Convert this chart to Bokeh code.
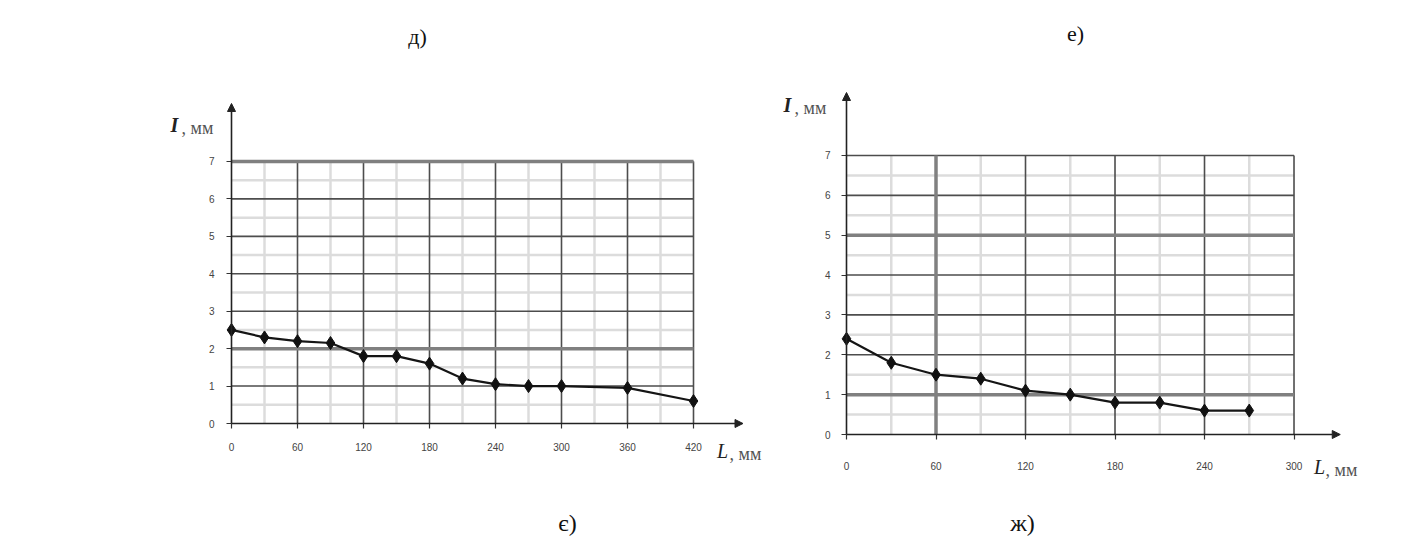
from bokeh.plotting import figure
from bokeh.layouts import row
from bokeh.models import FixedTicker, Arrow, NormalHead, Label, Range1d, LinearAxis
from bokeh.embed import file_html
from bokeh.resources import INLINE

# ---- data ----
left_L = [0, 30, 60, 90, 120, 150, 180, 210, 240, 270, 300, 360, 420]
left_I = [2.5, 2.3, 2.2, 2.15, 1.8, 1.8, 1.6, 1.2, 1.05, 1.0, 1.0, 0.95, 0.6]
right_L = [0, 30, 60, 90, 120, 150, 180, 210, 240, 270]
right_I = [2.4, 1.8, 1.5, 1.4, 1.1, 1.0, 0.8, 0.8, 0.6, 0.6]

left_x_ticks = [0, 60, 120, 180, 240, 300, 360, 420]
left_x_minor = [30, 90, 150, 210, 270, 330, 390]
right_x_ticks = [0, 60, 120, 180, 240, 300]
right_x_minor = [30, 90, 150, 210, 270]
y_ticks = [0, 1, 2, 3, 4, 5, 6, 7]
y_minor = [0.5, 1.5, 2.5, 3.5, 4.5, 5.5, 6.5]

y_label_main = "I"
y_label_unit = ", мм"
x_label_main = "L"
x_label_unit = ", мм"
captions = ["є)", "ж)", "д)", "е)"]

TICK_FONT = "Liberation Sans"
SERIF = "Liberation Serif"
H = 552


def make_chart(width, x_range, y_range, L, I, xt, xm, xstand, ystand, arrow_x, arrow_y,
               heavy_h, heavy_v):
    p = figure(width=width, height=H, x_range=Range1d(*x_range), y_range=Range1d(*y_range),
               min_border_left=0, min_border_right=0, min_border_top=0, min_border_bottom=0,
               x_axis_location=None, y_axis_location=None,
               output_backend="svg", toolbar_location=None,
               background_fill_color="white", border_fill_color="white",
               outline_line_color=None)
    p.xgrid.visible = False
    p.ygrid.visible = False
    xmax = xt[-1]
    ymax = y_ticks[-1]
    # minor grid
    p.segment(x0=[0] * len(y_minor), x1=[xmax] * len(y_minor), y0=y_minor, y1=y_minor,
              line_color="#dcdcdc", line_width=2.5)
    p.segment(x0=xm, x1=xm, y0=[0] * len(xm), y1=[ymax] * len(xm),
              line_color="#dcdcdc", line_width=2.5)
    # major grid
    hy = y_ticks[1:]
    p.segment(x0=[0] * len(hy), x1=[xmax] * len(hy), y0=hy, y1=hy,
              line_color="#4d4d4d", line_width=1.6)
    vx = xt[1:]
    p.segment(x0=vx, x1=vx, y0=[0] * len(vx), y1=[ymax] * len(vx),
              line_color="#4d4d4d", line_width=1.6)
    # scan-thickened grid lines
    if heavy_h:
        p.segment(x0=[0] * len(heavy_h), x1=[xmax] * len(heavy_h), y0=heavy_h, y1=heavy_h,
                  line_color="#808080", line_width=3.5)
    if heavy_v:
        p.segment(x0=heavy_v, x1=heavy_v, y0=[0] * len(heavy_v), y1=[ymax] * len(heavy_v),
                  line_color="#808080", line_width=3.5)
    # data
    p.line(L, I, line_color="#151515", line_width=2.2)
    p.scatter(L, I, marker="diamond", size=13, fill_color="#111111", line_color="#111111")

    xaxis = LinearAxis(fixed_location=0, ticker=FixedTicker(ticks=xt))
    yaxis = LinearAxis(fixed_location=0, ticker=FixedTicker(ticks=y_ticks))
    for ax in (xaxis, yaxis):
        ax.axis_line_color = None
        ax.major_tick_line_color = "#333333"
        ax.major_tick_line_width = 1.2
        ax.major_tick_in = 0
        ax.major_tick_out = 5
        ax.minor_tick_out = 0
        ax.minor_tick_in = 0
        ax.major_label_text_font = TICK_FONT
        ax.major_label_text_font_size = "10px"
        ax.major_label_text_color = "#444444"
    xaxis.major_label_standoff = xstand
    yaxis.major_label_standoff = ystand
    p.add_layout(xaxis, "below")
    p.add_layout(yaxis, "left")

    head = dict(size=8, fill_color="#222222", line_color="#222222")
    p.add_layout(Arrow(end=NormalHead(**head), x_start=0, y_start=0, x_end=0, y_end=arrow_y,
                       line_color="#222222", line_width=1.6))
    p.add_layout(Arrow(end=NormalHead(**head), x_start=0, y_start=0, x_end=arrow_x, y_end=0,
                       line_color="#222222", line_width=1.6))
    return p


# left chart: x px = 231 + 1.1*x ; y px = 423 - 37.43*y   (figure 781 wide)
p1 = make_chart(781, (-231 / 1.1, (781 - 231) / 1.1), ((423 - H) / 37.43, 423 / 37.43),
                left_L, left_I, left_x_ticks, left_x_minor, 14, 12, 465, 8.55,
                [7, 2], [])
# right chart: x px = 846 + 1.4917*x ; y px = 434 - 39.86*y (figure starts at 781)
p2 = make_chart(626, (-65 / 1.4917, (626 - 65) / 1.4917), ((434 - H) / 39.86, 434 / 39.86),
                right_L, right_I, right_x_ticks, right_x_minor, 22, 11, 331, 8.58,
                [5, 1], [60])


def lab(p, x, y, text, size, style="normal", align="left", font=SERIF, color="#222222"):
    # x, y: pixel position inside the figure, measured from its top-left corner
    p.add_layout(Label(x=x, y=H - y, x_units="screen", y_units="screen", text=text,
                       text_font=font, text_font_size=size,
                       text_font_style=style, text_align=align, text_baseline="middle",
                       text_color=color))


# axis titles
lab(p1, 174, 124, y_label_main, "20px", "bold italic", "center")
lab(p1, 181, 127, y_label_unit, "18px", color="#555555")
lab(p1, 722, 450, x_label_main, "20px", "italic", "center")
lab(p1, 729, 453, x_label_unit, "18px", color="#555555")
lab(p2, 6, 104, y_label_main, "20px", "bold italic", "center")
lab(p2, 13, 107, y_label_unit, "18px", color="#555555")
lab(p2, 538, 466, x_label_main, "20px", "italic", "center")
lab(p2, 544, 469, x_label_unit, "18px", color="#555555")

# panel captions
lab(p1, 567, 522, captions[0], "24px", align="center", color="#111111")
lab(p2, 241, 522, captions[1], "24px", align="center", color="#111111")
lab(p1, 417, 36, captions[2], "22px", align="center", color="#111111")
lab(p2, 294, 33, captions[3], "22px", align="center", color="#111111")

layout = row(p1, p2)
open("out.html", "w").write(file_html(layout, INLINE))
